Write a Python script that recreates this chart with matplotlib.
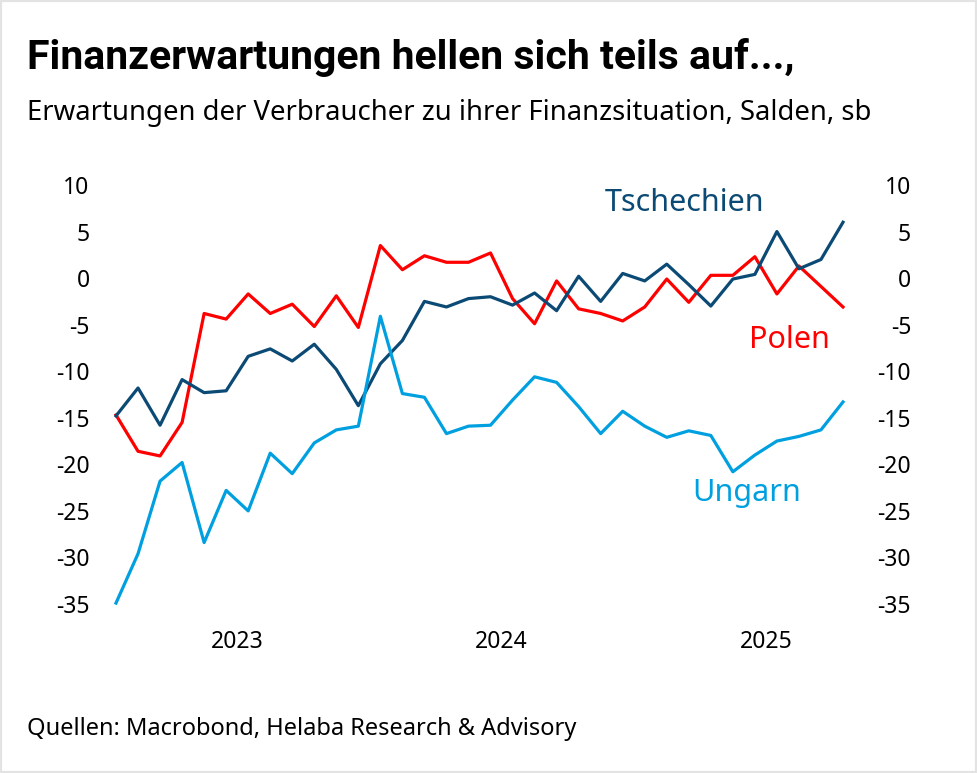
import numpy as np
import matplotlib
matplotlib.use("Agg")
import matplotlib.pyplot as plt
from matplotlib.patches import Rectangle

plt.rcParams['font.family'] = ['Noto Sans', 'DejaVu Sans']

# monthly values, Jan 2023 .. Oct 2025 (balances)
months = np.arange(34)
tschechien = [-14.8, -11.8, -15.8, -10.9, -12.3, -12.1, -8.4, -7.6, -8.9, -7.1, -9.8, -13.7,
              -9.2, -6.7, -2.5, -3.1, -2.2, -2.0, -2.9, -1.6, -3.5, 0.2, -2.5, 0.5,
              -0.3, 1.5, -0.7, -3.0, -0.1, 0.4, 5.0, 1.0, 2.0, 6.0]
polen = [-14.7, -18.6, -19.1, -15.5, -3.8, -4.4, -1.7, -3.8, -2.8, -5.2, -1.9, -5.3,
         3.5, 0.9, 2.4, 1.7, 1.7, 2.7, -2.2, -4.9, -0.3, -3.3, -3.8, -4.6,
         -3.1, -0.1, -2.6, 0.3, 0.3, 2.3, -1.7, 1.3, -0.9, -3.1]
ungarn = [-34.9, -29.6, -21.8, -19.8, -28.4, -22.8, -25.0, -18.8, -21.0, -17.7, -16.3, -15.9,
          -4.1, -12.4, -12.8, -16.7, -15.9, -15.8, -13.1, -10.6, -11.2, -13.8, -16.7, -14.3,
          -15.9, -17.1, -16.4, -16.9, -20.8, -19.0, -17.5, -17.0, -16.3, -13.3]
year_pos = [5.5, 17.5, 29.5]
year_labels = ['2023', '2024', '2025']
yticks = [10, 5, 0, -5, -10, -15, -20, -25, -30, -35]

c_cz = '#0b4a75'
c_pl = '#ff0000'
c_hu = '#00a0e0'

W, H = 977, 773
fig = plt.figure(figsize=(W / 100, H / 100), dpi=100, facecolor='w')
ax = fig.add_axes([116 / W, 1 - 604 / H, 727 / W, 419 / H])

ax.plot(months, polen, color=c_pl, lw=2.3, clip_on=False)
ax.plot(months, tschechien, color=c_cz, lw=2.3, clip_on=False)
ax.plot(months, ungarn, color=c_hu, lw=2.3, clip_on=False)

ax.set_xlim(0, 33)
ax.set_ylim(-35, 10)
ax.set_yticks(yticks)
ax.set_yticklabels([str(v) for v in yticks])
ax.set_xticks(year_pos)
ax.set_xticklabels(year_labels)
ax.tick_params(axis='y', length=0, pad=19, labelsize=16.5)
ax.tick_params(axis='x', length=0, pad=19, labelsize=16.5)
for spine in ax.spines.values():
    spine.set_visible(False)

ax2 = ax.twinx()
ax2.set_ylim(-35, 10)
ax2.set_yticks(yticks)
ax2.set_yticklabels([str(v) for v in yticks])
ax2.tick_params(axis='y', length=0, pad=49, labelsize=16.5)
for t in ax2.yaxis.get_major_ticks():
    t.label2.set_horizontalalignment('right')
for spine in ax2.spines.values():
    spine.set_visible(False)

ax.text(25.8, 8.1, 'Tschechien', color=c_cz, fontsize=22, ha='center', va='center')
ax.text(30.55, -6.6, 'Polen', color=c_pl, fontsize=22, ha='center', va='center')
ax.text(28.64, -23.1, 'Ungarn', color=c_hu, fontsize=22, ha='center', va='center')

fig.text(27 / W, 1 - 69 / H, 'Finanzerwartungen hellen sich teils auf...,',
         fontsize=29.5, fontweight='bold', family=['Roboto', 'DejaVu Sans'],
         ha='left', va='baseline')
fig.text(27 / W, 1 - 120 / H, 'Erwartungen der Verbraucher zu ihrer Finanzsituation, Salden, sb',
         fontsize=19.8, ha='left', va='baseline')
fig.text(27 / W, 1 - 735 / H, 'Quellen: Macrobond, Helaba Research & Advisory',
         fontsize=17, ha='left', va='baseline')

fig.patches.append(Rectangle((0, 0), 1, 1, transform=fig.transFigure, fill=False,
                             edgecolor='#e3e3e3', lw=3))

fig.savefig('out.png', dpi=100, facecolor='w')
